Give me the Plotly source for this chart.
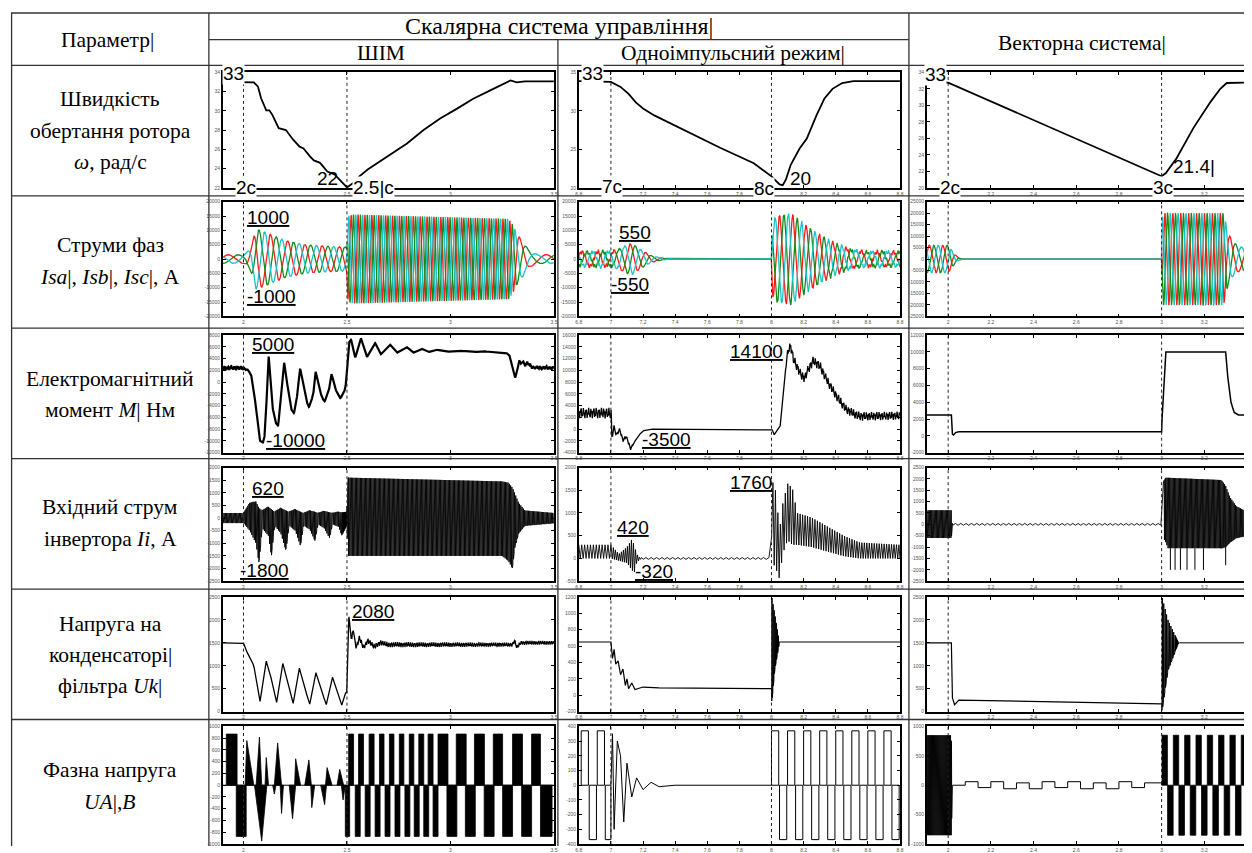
import numpy as np
import plotly.graph_objects as go

# ============================ DATA ============================
# ---- Row 1: rotor speed, rad/s ----
SPEED_PWM_T = [1.90, 2.00, 2.05, 2.07, 2.085, 2.11, 2.125, 2.14, 2.17, 2.205, 2.24, 2.27, 2.29, 2.32, 2.34,
               2.37, 2.405, 2.44, 2.47, 2.50, 2.53, 2.56, 2.60, 2.66, 2.72, 2.79, 2.87, 2.95, 3.03, 3.11,
               3.19, 3.29, 3.32, 3.36, 3.50]
SPEED_PWM_V = [33.0, 33.0, 32.95, 32.5, 31.3, 30.05, 30.05, 29.55, 28.2, 28.0, 27.0, 26.3, 26.1, 25.3, 24.85,
               24.6, 23.7, 23.4, 22.7, 22.05, 22.5, 23.2, 23.9, 24.75, 25.6, 26.6, 28.0, 29.2, 30.2, 31.25,
               32.1, 33.15, 32.95, 33.05, 33.05]
SPEED_1P_T = [6.80, 7.00, 7.06, 7.11, 7.155, 7.20, 7.27, 7.47, 7.68, 7.89, 8.00, 8.05, 8.07, 8.09, 8.12,
              8.175, 8.22, 8.28, 8.33, 8.38, 8.44, 8.51, 8.80]
SPEED_1P_V = [33.85, 33.75, 33.1, 32.2, 31.1, 30.3, 29.4, 27.3, 25.2, 23.2, 21.5, 20.45, 20.35, 21.1, 23.0,
              25.1, 26.4, 29.4, 31.6, 32.85, 33.6, 33.85, 33.85]
SPEED_VEC_T = [1.90, 2.00, 3.00, 3.02, 3.07, 3.15, 3.23, 3.275, 3.305, 3.34, 3.40]
SPEED_VEC_V = [32.75, 32.75, 21.4, 21.8, 23.6, 27.3, 30.45, 32.0, 32.7, 32.75, 32.75]

# ---- Row 2: phase currents (envelope amplitude, frequency Hz, ripple) ----
CUR_PWM_T = [1.90, 2.00, 2.03, 2.06, 2.10, 2.15, 2.20, 2.30, 2.40, 2.499, 2.505, 2.53, 3.28, 3.30, 3.32, 3.35, 3.38, 3.42, 3.50]
CUR_PWM_A = [1500, 1500, 3500, 10500, 9500, 8000, 6500, 5000, 4500, 4200, 15000, 15500, 14000, 12000, 9000, 6000, 3000, 1600, 1500]
CUR_PWM_F = [7, 7, 12, 12, 12, 12, 12, 12, 12, 12, 30, 30, 30, 28, 15, 9, 7, 7, 7]
CUR_1P_T = [6.80, 7.00, 7.05, 7.10, 7.13, 7.18, 7.25, 7.32, 7.40, 7.999, 8.005, 8.03, 8.12, 8.20, 8.30, 8.40, 8.50, 8.60, 8.80]
CUR_1P_A = [2500, 2500, 3500, 5000, 5500, 3500, 1200, 300, 0, 0, 13000, 15000, 15500, 12000, 8000, 5000, 3200, 2500, 2500]
CUR_1P_F = [10, 10, 10, 10, 10, 10, 10, 10, 10, 12, 12, 12, 12, 12, 12, 12, 11, 10, 10]
CUR_1P_R = [800, 800, 300, 0, 0, 0, 0, 0, 0, 0, 0, 500, 800, 800, 800, 800, 800, 800, 800]
CUR_VEC_T = [1.90, 2.00, 2.02, 2.04, 2.06, 2.999, 3.005, 3.29, 3.31, 3.33, 3.36, 3.40]
CUR_VEC_A = [6000, 6000, 3500, 1000, 0, 0, 20000, 20000, 12000, 8000, 5500, 5000]
CUR_VEC_F = [16, 16, 16, 16, 16, 27, 27, 27, 15, 13, 12, 12]

# ---- Row 3: electromagnetic torque, N*m ----
TQ_PWM_T = [1.900, 1.997, 2.021, 2.037, 2.053, 2.069, 2.077, 2.093, 2.101, 2.113, 2.121, 2.129, 2.141, 2.157, 2.168,
            2.180, 2.196, 2.212, 2.228, 2.244, 2.260, 2.273, 2.289, 2.308, 2.316, 2.337, 2.348, 2.364, 2.380, 2.392,
            2.412, 2.425, 2.439, 2.460, 2.468, 2.484, 2.492,
            2.500, 2.508, 2.520, 2.540, 2.567, 2.596, 2.636, 2.663, 2.708, 2.740, 2.788, 2.820, 2.860, 2.892, 2.932,
            2.980, 3.044, 3.108, 3.156, 3.268, 3.284, 3.300, 3.312, 3.324, 3.332, 3.340, 3.348, 3.360, 3.372, 3.396, 3.500]
TQ_PWM_V = [2400, 2400, 2110, 1260, -2170, -7310, -9890, -10340, -9600, -2170, 4970, 690, -4460, -7030, -7430,
            -2170, 3540, -460, -4460, -5310, -2170, 2510, -460, -3600, -4290, -2170, 1940, -740, -2740, -3310,
            -1600, 1540, -740, -2460, -2740, -1890, -1030,
            1260, 6690, 7260, 4110, 7540, 4230, 6690, 4690, 6400, 4970, 6000, 4970, 5710, 5090, 5540,
            5140, 5370, 5090, 5260, 4970, 4690, 2510, 690, 1940, 3830, 3090, 3540, 2970, 3260, 2510, 2400]
TQ_PWM_RT = [1.90, 2.00, 2.02, 3.34, 3.36, 3.50]
TQ_PWM_RA = [350, 350, 0, 0, 300, 300]
TQ_1P_T = [6.800, 7.002, 7.006, 7.019, 7.033, 7.054, 7.074, 7.095, 7.122, 7.136, 7.167, 7.198, 7.239, 8.003, 8.017,
           8.034, 8.054, 8.075, 8.095, 8.106, 8.120, 8.137, 8.157, 8.188, 8.209, 8.229, 8.260, 8.302, 8.343, 8.405,
           8.467, 8.549, 8.800]
TQ_1P_V = [2740, 2740, -1540, 460, -970, -110, -1830, -1260, -3260, -2690, -1260, -290, 0, 0, -970,
           -110, 460, 7310, 11890, 13600, 14100, 11890, 10740, 9030, 8740, 10170, 11600, 10740, 8460, 5600,
           3310, 2170, 2300]
TQ_1P_RT = [6.80, 7.00, 7.01, 7.12, 7.15, 8.08, 8.10, 8.80]
TQ_1P_RA = [900, 900, 300, 300, 0, 0, 800, 700]
TQ_VEC_T = [1.90, 2.015, 2.02, 2.025, 2.035, 2.05, 3.00, 3.002, 3.02, 3.30, 3.31, 3.325, 3.34, 3.36, 3.40]
TQ_VEC_V = [2500, 2500, 200, 100, 400, 500, 500, 2000, 10000, 10000, 7000, 4000, 2800, 2500, 2500]

# ---- Row 4: inverter input current (upper / lower envelope of the dense trace) ----
IIN_PWM_T = [1.90, 2.00, 2.03, 2.06, 2.075, 2.09, 2.12, 2.135, 2.15, 2.18, 2.205, 2.22, 2.25, 2.275, 2.29,
             2.32, 2.345, 2.36, 2.39, 2.415, 2.43, 2.46, 2.475, 2.499, 2.505, 3.25, 3.28, 3.30, 3.31, 3.33, 3.36, 3.50]
IIN_PWM_UP = [200, 200, 600, 650, 400, 300, 450, 350, 250, 400, 300, 250, 350, 250, 200,
              300, 250, 200, 280, 230, 200, 250, 220, 250, 1600, 1450, 1400, 1200, 1000, 600, 300, 200]
IIN_PWM_LO = [-200, -200, -500, -1000, -1800, -400, -700, -1500, -300, -600, -1300, -300, -500, -1100, -300,
              -450, -900, -250, -400, -800, -250, -350, -700, -300, -1500, -1500, -1700, -2000, -1200, -600, -300, -200]
IIN_1P_T = [6.80, 7.00, 7.05, 7.10, 7.13, 7.145, 7.16, 7.18, 7.999, 8.001, 8.01, 8.03, 8.05, 8.07, 8.10,
            8.13, 8.16, 8.25, 8.35, 8.45, 8.55, 8.80]
IIN_1P_UP = [300, 300, 100, 250, 420, 300, 100, 20, 20, 900, 1760, 1400, 600, 1200, 1650,
             1550, 1000, 900, 700, 500, 350, 300]
IIN_1P_LO = [0, 0, -50, -100, -250, -320, -100, -20, -20, 500, -100, -250, -450, 100, 400,
             300, 300, 250, 150, 50, 0, 0]
IIN_VEC_T = [1.90, 2.015, 2.02, 2.999, 3.002, 3.02, 3.03, 3.28, 3.30, 3.32, 3.35, 3.40]
IIN_VEC_UP = [620, 620, 40, 40, 1800, 2050, 2050, 1950, 1700, 1200, 800, 550]
IIN_VEC_LO = [-600, -600, -40, -40, -500, -800, -1050, -1050, -1000, -800, -600, -500]
IIN_VEC_SPIKE_T = [3.041, 3.063, 3.088, 3.119, 3.156, 3.196, 3.300]
IIN_VEC_SPIKE_V = [-2000, -2000, -2000, -2000, -2000, -2000, -1800]

# ---- Row 5: filter capacitor voltage ----
UC_PWM_T = [1.90, 2.00, 2.01, 2.03, 2.05, 2.065, 2.08, 2.095, 2.11, 2.13, 2.16, 2.175, 2.19, 2.21, 2.24,
            2.255, 2.27, 2.29, 2.32, 2.335, 2.35, 2.37, 2.40, 2.415, 2.43, 2.45, 2.475, 2.49, 2.499, 2.505,
            2.51, 2.52, 2.53, 2.545, 2.56, 2.58, 2.60, 2.63, 2.66, 2.70, 3.30, 3.31, 3.32, 3.34, 3.50]
UC_PWM_V = [1500, 1500, 1350, 1200, 1000, 600, 220, 700, 1100, 800, 200, 600, 1050, 700, 180,
            550, 950, 600, 160, 500, 850, 550, 150, 450, 750, 500, 140, 400, 420, 1900,
            2080, 1600, 1750, 1400, 1600, 1400, 1550, 1420, 1500, 1460, 1460, 1550, 1400, 1500, 1500]
UC_PWM_RT = [1.90, 2.50, 2.51, 3.50]
UC_PWM_RA = [0, 0, 60, 40]
UC_1P_T = [6.80, 7.00, 7.01, 7.02, 7.03, 7.045, 7.06, 7.075, 7.09, 7.10, 7.11, 7.13, 7.15, 7.20, 7.30, 8.00]
UC_1P_V = [650, 650, 450, 560, 380, 420, 250, 320, 120, 200, 80, 150, 70, 100, 90, 80]
UC_1P_SPK_T = [8.00, 8.002, 8.02, 8.05, 8.80]
UC_1P_SPK_UP = [80, 1200, 1000, 650, 650]
UC_1P_SPK_LO = [80, -100, 300, 650, 650]
UC_VEC_T = [1.90, 2.015, 2.02, 2.03, 2.05, 3.00]
UC_VEC_V = [1500, 1500, 300, 150, 250, 170]
UC_VEC_SPK_T = [3.00, 3.002, 3.03, 3.08, 3.40]
UC_VEC_SPK_UP = [170, 2500, 2000, 1500, 1500]
UC_VEC_SPK_LO = [170, 0, 900, 1500, 1500]

# ---- Row 6: phase voltage (solid PWM blocks and humps) ----
PV_PWM_LEVEL = 870
PV_PWM_POS_S = [1.917, 2.508, 2.556, 2.607, 2.657, 2.705, 2.753, 2.801, 2.847, 2.892, 2.940, 3.028, 3.116, 3.207, 3.300, 3.392]
PV_PWM_POS_E = [1.969, 2.532, 2.580, 2.631, 2.679, 2.727, 2.775, 2.823, 2.871, 2.916, 2.988, 3.076, 3.164, 3.252, 3.348, 3.435]
PV_PWM_NEG_S = [1.965, 2.492, 2.540, 2.588, 2.636, 2.684, 2.732, 2.780, 2.825, 2.871, 2.916, 2.983, 3.072, 3.163, 3.252, 3.344, 3.435]
PV_PWM_NEG_E = [2.013, 2.513, 2.564, 2.612, 2.660, 2.708, 2.756, 2.804, 2.849, 2.895, 2.940, 3.031, 3.120, 3.211, 3.300, 3.392, 3.491]
PV_PWM_HUMP_T0 = [2.008, 2.061, 2.104, 2.149, 2.247, 2.296, 2.396, 2.452, 2.053, 2.141, 2.177, 2.221, 2.325, 2.373, 2.473]
PV_PWM_HUMP_TP = [2.016, 2.077, 2.110, 2.165, 2.252, 2.316, 2.404, 2.465, 2.088, 2.149, 2.184, 2.237, 2.330, 2.392, 2.481]
PV_PWM_HUMP_T1 = [2.050, 2.088, 2.121, 2.184, 2.276, 2.328, 2.428, 2.484, 2.113, 2.157, 2.193, 2.252, 2.344, 2.401, 2.492]
PV_PWM_HUMP_V = [760, 820, 470, 720, 450, 430, 300, 270, -950, -150, -480, -570, -380, -330, -250]

PV_1P_LEVEL = 370
PV_1P_POS_S = [6.815, 6.915, 8.000, 8.100, 8.200, 8.300, 8.400, 8.500, 8.600, 8.700]
PV_1P_POS_E = [6.860, 6.960, 8.045, 8.145, 8.245, 8.345, 8.445, 8.545, 8.645, 8.745]
PV_1P_NEG_S = [6.865, 6.965, 8.050, 8.150, 8.250, 8.350, 8.450, 8.550, 8.650, 8.750]
PV_1P_NEG_E = [6.910, 7.000, 8.095, 8.195, 8.295, 8.395, 8.495, 8.595, 8.695, 8.795]
PV_1P_MID_T = [7.00, 7.01, 7.02, 7.04, 7.06, 7.08, 7.10, 7.13, 7.16, 7.20, 7.25, 7.30, 7.40, 8.00]
PV_1P_MID_V = [0, 350, -300, 300, 200, -250, 150, -80, 50, -30, 20, -10, 0, 0]

PV_VEC_LEVEL = 850
PV_VEC_BAND_T = [1.90, 2.015, 2.02]
PV_VEC_STAIR_T = [2.02, 2.08, 2.14, 2.20, 2.26, 2.32, 2.38, 2.44, 2.50, 2.56, 2.62, 2.68, 2.74, 2.80, 2.86, 2.92, 3.00]
PV_VEC_STAIR_V = [0, 60, -40, 60, -60, 40, -60, 60, -40, 60, -60, 40, -60, 60, -40, 40, 0]
PV_VEC_POS_S = [3.002, 3.055, 3.108, 3.161, 3.214, 3.267, 3.320, 3.373]
PV_VEC_POS_E = [3.027, 3.080, 3.133, 3.186, 3.239, 3.292, 3.345, 3.398]
PV_VEC_NEG_S = [3.028, 3.081, 3.134, 3.187, 3.240, 3.293, 3.346]
PV_VEC_NEG_E = [3.054, 3.107, 3.160, 3.213, 3.266, 3.319, 3.372]

# ---- axes ----
X_RANGES = [[1.9, 3.5], [6.8, 8.8], [1.9, 3.4]]
X_TICKS = [[2, 2.5, 3, 3.5], [6.8, 7, 7.2, 7.4, 7.6, 7.8, 8, 8.2, 8.4, 8.6, 8.8], [2, 2.2, 2.4, 2.6, 2.8, 3, 3.2, 3.4]]
EVENTS = [[2.0, 2.5], [7.0, 8.0], [2.0, 3.0]]
Y_AXES = [  # (min, max, step) per row, per column
    [(22, 34, 2), (20, 35, 5), (20, 34, 2)],
    [(-20000, 20000, 5000), (-20000, 20000, 5000), (-25000, 25000, 5000)],
    [(-12000, 8000, 2000), (-4000, 16000, 2000), (-2000, 12000, 2000)],
    [(-2500, 2000, 500), (-500, 2000, 500), (-2500, 2500, 500)],
    [(0, 2500, 500), (-200, 1200, 200), (0, 2500, 500)],
    [(-1000, 1000, 200), (-400, 400, 100), (-1000, 1000, 500)],
]

# ============================ LAYOUT GEOMETRY ============================
# The page body has an 8 px margin, so the figure is drawn 8 px in from the corner.
OFF = 8
W, H = 1252 - OFF, 853 - OFF
COL_X = [(221, 554), (579, 902), (929, 1251)]
ROW_Y = [(70, 187), (201, 317), (336, 455), (470, 585), (601, 717), (732, 851)]
PHASE_COLORS = ['#ff1a1a', '#168a16', '#19c3c8']


def pxx(x):
    return (x - OFF) / W


def pxy(y):
    return 1 - (y - OFF) / H


def axn(k):
    return ('x' if k == 1 else f'x{k}'), ('y' if k == 1 else f'y{k}')


def fmt(v):
    if abs(v - round(v)) < 1e-9:
        return str(int(round(v)))
    return ('%.1f' % v)


# ---------------- signal helpers ----------------
def dense_line(kt, kv, rt=None, ra=None, n=4000, f1=63.0, f2=151.0, smooth=0):
    t = np.linspace(kt[0], kt[-1], n)
    y = np.interp(t, kt, kv)
    if smooth > 1:
        ker = np.ones(smooth) / smooth
        pad = np.concatenate([np.full(smooth, y[0]), y, np.full(smooth, y[-1])])
        y = np.convolve(pad, ker, mode='same')[smooth:-smooth]
    if rt is not None:
        r = np.interp(t, rt, ra)
        y = y + r * (0.6 * np.sin(2 * np.pi * f1 * t) + 0.4 * np.sin(2 * np.pi * f2 * t + 1.0))
    return t, y


def three_phase(kt, ka, kf, kr=None, n=6000):
    t = np.linspace(kt[0], kt[-1], n)
    a = np.interp(t, kt, ka)
    f = np.interp(t, kt, kf)
    ph = 2 * np.pi * np.concatenate([[0.0], np.cumsum(0.5 * (f[1:] + f[:-1]) * np.diff(t))])
    out = []
    for k in range(3):
        y = a * np.sin(ph - 2 * np.pi * k / 3 + 0.4)
        if kr is not None:
            r = np.interp(t, kt, kr)
            y = y + r * (0.6 * np.sin(2 * np.pi * 61 * t + 2.1 * k) + 0.4 * np.sin(2 * np.pi * 137 * t + 1.3 * k))
        out.append(y)
    return t, out


def zigzag(kt, up, lo, rate_t, rate_v):
    ts = [kt[0]]
    while ts[-1] < kt[-1]:
        ts.append(ts[-1] + 1.0 / np.interp(ts[-1], rate_t, rate_v))
    t = np.array(ts)
    t[-1] = kt[-1]
    u = np.interp(t, kt, up)
    l = np.interp(t, kt, lo)
    y = np.where(np.arange(len(t)) % 2 == 0, u, l)
    return t, y


def blocks(starts, ends, level):
    xs, ys = [], []
    for s, e in zip(starts, ends):
        xs += [s, s, e, e, s, None]
        ys += [0, level, level, 0, 0, None]
    return xs, ys


def humps(t0, tp, t1, v):
    xs, ys = [], []
    for a, b, c, d in zip(t0, tp, t1, v):
        xs += [a, b, c, a, None]
        ys += [0, d, 0, 0, None]
    return xs, ys


fig = go.Figure()


def add(k, x, y, color='black', width=1.2, fill=None, shape='linear'):
    xa, ya = axn(k)
    kw = {}
    if fill:
        kw = dict(fill='toself', fillcolor=color)
    fig.add_trace(go.Scatter(x=list(x), y=list(y), mode='lines', line=dict(color=color, width=width, shape=shape),
                             xaxis=xa, yaxis=ya, hoverinfo='skip', showlegend=False, **kw))


def K(r, c):
    return r * 3 + c + 1


# Row 1: speed
add(K(0, 0), SPEED_PWM_T, SPEED_PWM_V, width=1.8)
add(K(0, 1), SPEED_1P_T, SPEED_1P_V, width=1.8)
add(K(0, 2), SPEED_VEC_T, SPEED_VEC_V, width=1.8)

# Row 2: phase currents
for c, (kt, ka, kf, kr) in enumerate([(CUR_PWM_T, CUR_PWM_A, CUR_PWM_F, None),
                                       (CUR_1P_T, CUR_1P_A, CUR_1P_F, CUR_1P_R),
                                       (CUR_VEC_T, CUR_VEC_A, CUR_VEC_F, None)]):
    t, ph = three_phase(kt, ka, kf, kr)
    for k in range(3):
        add(K(1, c), t, ph[k], color=PHASE_COLORS[k], width=1.3)

# Row 3: torque
t, y = dense_line(TQ_PWM_T, TQ_PWM_V, TQ_PWM_RT, TQ_PWM_RA, smooth=9)
add(K(2, 0), t, y, width=2.2)
t, y = dense_line(TQ_1P_T, TQ_1P_V, TQ_1P_RT, TQ_1P_RA)
add(K(2, 1), t, y, width=1.3)
add(K(2, 2), TQ_VEC_T, TQ_VEC_V, width=1.5)

# Row 4: inverter input current
t, y = zigzag(IIN_PWM_T, IIN_PWM_UP, IIN_PWM_LO, [1.9, 3.5], [650, 650])
add(K(3, 0), t, y, width=0.9)
t, y = zigzag(IIN_1P_T, IIN_1P_UP, IIN_1P_LO, [6.8, 7.0, 7.001, 7.18, 7.2, 8.0, 8.001, 8.8],
              [110, 110, 160, 160, 60, 60, 130, 130])
add(K(3, 1), t, y, width=0.9)
t, y = zigzag(IIN_VEC_T, IIN_VEC_UP, IIN_VEC_LO, [1.9, 2.02, 2.021, 2.999, 3.0, 3.4], [700, 700, 80, 80, 700, 700])
add(K(3, 2), t, y, width=0.9)
sx, sy = [], []
for st, sv in zip(IIN_VEC_SPIKE_T, IIN_VEC_SPIKE_V):
    sx += [st, st, None]
    sy += [float(np.interp(st, IIN_VEC_T, IIN_VEC_LO)), sv, None]
add(K(3, 2), sx, sy, width=1.0)

# Row 5: capacitor voltage
t, y = dense_line(UC_PWM_T, UC_PWM_V, UC_PWM_RT, UC_PWM_RA, f1=97.0, f2=211.0)
add(K(4, 0), t, y, width=1.3)
add(K(4, 1), UC_1P_T, UC_1P_V, width=1.2)
t, y = zigzag(UC_1P_SPK_T, UC_1P_SPK_UP, UC_1P_SPK_LO, [8.0, 8.8], [600, 600])
add(K(4, 1), t, y, width=1.0)
add(K(4, 2), UC_VEC_T, UC_VEC_V, width=1.2)
t, y = zigzag(UC_VEC_SPK_T, UC_VEC_SPK_UP, UC_VEC_SPK_LO, [3.0, 3.4], [600, 600])
add(K(4, 2), t, y, width=1.0)

# Row 6: phase voltage
x, y = blocks(PV_PWM_POS_S, PV_PWM_POS_E, PV_PWM_LEVEL)
add(K(5, 0), x, y, width=0.8, fill=True)
x, y = blocks(PV_PWM_NEG_S, PV_PWM_NEG_E, -PV_PWM_LEVEL)
add(K(5, 0), x, y, width=0.8, fill=True)
x, y = humps(PV_PWM_HUMP_T0, PV_PWM_HUMP_TP, PV_PWM_HUMP_T1, PV_PWM_HUMP_V)
add(K(5, 0), x, y, width=0.8, fill=True)
add(K(5, 0), [1.9, 3.5], [0, 0], width=1.0)

x, y = blocks(PV_1P_POS_S, PV_1P_POS_E, PV_1P_LEVEL)
add(K(5, 1), x, y, width=1.0)
x, y = blocks(PV_1P_NEG_S, PV_1P_NEG_E, -PV_1P_LEVEL)
add(K(5, 1), x, y, width=1.0)
add(K(5, 1), PV_1P_MID_T, PV_1P_MID_V, width=1.0)

t, y = zigzag(PV_VEC_BAND_T, [PV_VEC_LEVEL, PV_VEC_LEVEL, 0], [-PV_VEC_LEVEL, -PV_VEC_LEVEL, 0], [1.9, 2.02], [900, 900])
add(K(5, 2), t, y, width=0.9)
add(K(5, 2), PV_VEC_STAIR_T, PV_VEC_STAIR_V, width=1.0, shape='hv')
x, y = blocks(PV_VEC_POS_S, PV_VEC_POS_E, PV_VEC_LEVEL)
add(K(5, 2), x, y, width=0.8, fill=True)
x, y = blocks(PV_VEC_NEG_S, PV_VEC_NEG_E, -PV_VEC_LEVEL)
add(K(5, 2), x, y, width=0.8, fill=True)

# ---------------- axes ----------------
layout = dict(width=W, height=H, margin=dict(l=0, r=0, t=0, b=0), paper_bgcolor='white',
              plot_bgcolor='white', showlegend=False)
shapes = []
for r in range(6):
    for c in range(3):
        k = K(r, c)
        x0, x1 = COL_X[c]
        y0, y1 = ROW_Y[r]
        ymin, ymax, ystep = Y_AXES[r][c]
        yt = list(np.arange(ymin, ymax + ystep * 0.5, ystep))
        common = dict(ticks='inside', ticklen=3, tickwidth=1, tickcolor='black', showline=True,
                      linecolor='black', linewidth=1.5, mirror='ticks', showgrid=False, zeroline=False,
                      tickfont=dict(size=5, color='#555', family='Liberation Sans'))
        layout['xaxis' if k == 1 else f'xaxis{k}'] = dict(
            domain=[pxx(x0), pxx(x1)], range=X_RANGES[c], anchor=axn(k)[1],
            tickvals=X_TICKS[c], ticktext=[fmt(v) for v in X_TICKS[c]], **common)
        layout['yaxis' if k == 1 else f'yaxis{k}'] = dict(
            domain=[pxy(y1), pxy(y0)], range=[ymin, ymax], anchor=axn(k)[0],
            tickvals=yt, ticktext=[fmt(v) for v in yt], **common)
        for ev in EVENTS[c]:
            shapes.append(dict(type='line', xref=axn(k)[0], yref=f'{axn(k)[1]} domain', x0=ev, x1=ev,
                               y0=0, y1=1, line=dict(color='#222', width=1, dash='dot')))

# table grid
TL = dict(color='#333', width=1.3)


def hline(y, xa, xb):
    shapes.append(dict(type='line', xref='paper', yref='paper', x0=pxx(xa), x1=pxx(xb), y0=pxy(y), y1=pxy(y), line=TL))


def vline(x, ya, yb):
    shapes.append(dict(type='line', xref='paper', yref='paper', x0=pxx(x), x1=pxx(x), y0=pxy(ya), y1=pxy(yb), line=TL))


hline(10, 8, 1252)
hline(37, 207, 911)
for yy in [63, 195, 329, 461, 593, 725]:
    hline(yy, 8, 1252)
vline(8.6, 10, 853)
vline(207, 10, 853)
vline(558, 37, 853)
vline(911, 10, 853)
layout['shapes'] = shapes

# ---------------- text ----------------
ann = []
SERIF = dict(family='Liberation Serif', size=21.5, color='black')
SERIF_WIDE = dict(family='Liberation Serif', size=24, color='black')
SANS = dict(family='Liberation Sans', size=19, color='black')


def T(text, x, y, font=SERIF, bg=None):
    d = dict(text=text, x=pxx(x), y=pxy(y), xref='paper', yref='paper', showarrow=False,
             xanchor='center', yanchor='middle', font=font, borderpad=0)
    if bg:
        d['bgcolor'] = bg
    ann.append(d)


T('Параметр|', 105, 37)
T('Скалярна система управління|', 559, 23, font=SERIF_WIDE)
T('ШІМ', 380, 50)
T('Одноімпульсний режим|', 734, 50)
T('Векторна система|', 1085, 40)
LEFT = [
    [('Швидкість', 97), ('обертання ротора', 129), ('<i>ω</i>, рад/с', 161)],
    [('Струми фаз', 245), ('<i>Isa</i>|, <i>Isb</i>|, <i>Isc</i>|, А', 277)],
    [('Електромагнітний', 380), ('момент <i>M</i>| Нм', 412)],
    [('Вхідний струм', 510), ('інвертора <i>Ii</i>, А', 542)],
    [('Напруга на', 628), ('конденсаторі|', 660), ('фільтра <i>Uk</i>|', 691)],
    [('Фазна напруга', 776), ('<i>UA</i>|,<i>B</i>', 808)],
]
for rows in LEFT:
    for txt, yy in rows:
        T(txt, 108, yy)

W_BG = 'white'
PLOT_LABELS = [
    ('33', 232, 71, True), ('2c', 244, 187, True), ('22', 326, 178, False), ('2.5|c', 373, 187, True),
    ('33', 593, 71, True), ('7c', 612, 186, True), ('8c', 765, 188, True), ('20', 802, 178, False),
    ('33', 938, 72, True), ('2c', 952, 187, True), ('3c', 1167, 187, True), ('21.4|', 1198, 165, False),
    ('<u>1000</u>', 266, 217, False), ('<u>-1000</u>', 270, 297, False),
    ('<u>550</u>', 636, 232, False), ('<u>-550</u>', 631, 285, False),
    ('<u>5000</u>', 271, 345, False), ('<u>-10000</u>', 294, 443, False),
    ('<u>14100</u>', 758, 353, False), ('<u>-3500</u>', 667, 442, False),
    ('<u>620</u>', 266, 491, False), ('<u>-1800</u>', 263, 574, False),
    ('<u>1760</u>', 752, 485, False), ('<u>420</u>', 634, 531, False), ('<u>-320</u>', 655, 575, False),
    ('<u>2080</u>', 372, 616, False),
]
for txt, x, y, bg in PLOT_LABELS:
    T(txt, x, y, font=SANS, bg=W_BG if bg else None)
layout['annotations'] = ann

fig.update_layout(**layout)
fig.write_html('out.html')
